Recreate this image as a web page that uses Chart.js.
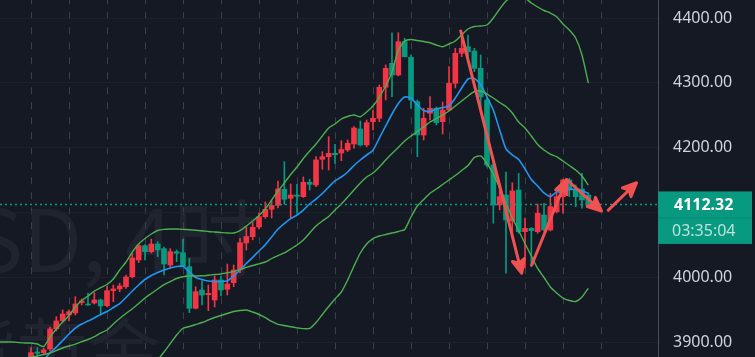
<!DOCTYPE html>
<html><head><meta charset="utf-8">
<script src="https://cdn.jsdelivr.net/npm/chart.js@4/dist/chart.umd.min.js"></script>
<style>html,body{margin:0;padding:0;background:#151924;overflow:hidden}#wrap{width:755px;height:357px}</style>
</head><body><div id="wrap"><canvas id="c" width="755" height="357"></canvas></div>
<script>
// ---- data (4H candles, index -5..88) ----
const barIndex = [-5,-4,-3,-2,-1,0,1,2,3,4,5,6,7,8,9,10,11,12,13,14,15,16,17,18,19,20,21,22,23,24,25,26,27,28,29,30,31,32,33,34,35,36,37,38,39,40,41,42,43,44,45,46,47,48,49,50,51,52,53,54,55,56,57,58,59,60,61,62,63,64,65,66,67,68,69,70,71,72,73,74,75,76,77,78,79,80,81,82,83,84,85,86,87,88];
const opens = [null,null,null,null,null,
3872.3,3884.7,3883.6,3889.3,3920.2,3932.9,3941.8,3944.8,3960.7,3958.7,
3960.3,3964.9,3956.1,3979.2,3981.9,3985.4,4000.9,4026.6,4048.7,4039.4,
4051.3,4044.1,4018.9,4039.4,4037.9,4016.3,3952.1,3980.3,3973.1,3964.9,
3995.8,3981.4,3991.6,4011.2,4052.9,4062.6,4077.5,4093.4,4104.8,4111.0,
4135.7,4121.8,4126.9,4124.3,4146.5,4142.3,4182.0,4186.0,4191.2,4191.7,
4196.4,4205.6,4228.8,4204.1,4240.0,4245.3,4293.1,4330.1,4312.1,4363.5,
4339.4,4270.9,4219.5,4253.0,4260.7,4240.0,4258.1,4299.3,4345.6,4355.7,
4349.1,4322.4,4273.5,4173.2,4111.5,4126.9,4086.8,4134.6,4070.3,4075.5,
4070.3,4096.1,4073.0,4101.1,4124.3,4150.1,4134.6,4136.2,4126.9];
const highs = [null,null,null,null,null,
3891.3,3891.3,3890.4,3923.2,3939.1,3949.5,3949.5,3970.0,3966.4,3975.7,
3976.2,3966.4,3985.4,3988.0,3990.7,4003.5,4035.9,4051.3,4050.2,4059.0,
4054.9,4046.7,4044.1,4042.1,4058.5,4029.3,3985.4,3994.7,3988.0,4001.9,
4001.9,4020.4,4018.9,4060.1,4078.0,4084.2,4099.2,4116.1,4117.7,4148.5,
4178.3,4143.9,4143.4,4154.7,4151.1,4186.0,4193.7,4216.9,4205.1,4210.7,
4211.8,4232.3,4241.1,4242.6,4258.1,4296.6,4327.5,4377.3,4377.3,4368.7,
4343.0,4273.5,4260.7,4278.6,4262.7,4270.4,4324.9,4353.3,4372.3,4373.8,
4353.3,4343.0,4278.1,4176.3,4139.7,4162.4,4145.9,4160.4,4091.4,4076.8,
4113.0,4114.1,4129.5,4129.5,4151.6,4152.7,4142.3,4160.4,4130.0];
const lows = [null,null,null,null,null,
3869.0,3875.4,3881.6,3886.2,3917.1,3931.0,3932.5,3941.8,3957.2,3956.4,
3958.7,3941.8,3954.1,3962.3,3977.7,3982.9,3998.8,4022.5,4026.6,4037.4,
4031.7,4003.5,4014.3,4024.0,4016.3,3945.3,3951.0,3957.2,3948.4,3954.1,
3971.1,3972.6,3985.4,4007.0,4042.1,4057.6,4074.5,4091.0,4091.4,4106.9,
4112.6,4091.4,4098.7,4123.1,4134.6,4139.7,4166.6,4165.5,4175.8,4179.8,
4194.0,4199.0,4202.5,4201.4,4227.2,4240.0,4273.5,4278.6,4310.5,4339.8,
4260.7,4186.0,4211.8,4242.6,4235.0,4221.0,4256.5,4292.0,4340.3,4340.3,
4317.2,4258.1,4170.1,4083.3,4103.8,4006.1,4067.8,4067.8,4014.3,4016.3,
4067.8,4071.4,4071.4,4099.1,4098.7,4124.3,4108.9,4106.4,4111.0];
const closes = [null,null,null,null,null,
3883.6,3882.4,3887.8,3920.2,3932.5,3943.3,3946.8,3958.7,3963.4,3957.2,
3964.9,3955.6,3979.2,3981.9,3986.5,4000.4,4029.7,4048.7,4039.4,4051.3,
4042.1,4020.5,4039.4,4036.9,4017.4,3952.1,3977.7,3972.6,3975.2,3995.8,
3980.3,3989.6,4011.2,4053.3,4062.9,4077.1,4093.4,4104.8,4110.7,4136.2,
4120.3,4126.9,4124.9,4146.5,4143.4,4181.0,4186.0,4191.2,4189.1,4197.1,
4206.7,4230.3,4204.1,4238.5,4245.3,4293.1,4322.4,4312.1,4363.5,4340.3,
4273.5,4219.5,4245.3,4260.7,4238.5,4258.1,4299.3,4345.6,4353.3,4348.0,
4322.4,4278.1,4173.2,4111.5,4124.3,4088.4,4133.1,4070.3,4075.5,4071.8,
4098.7,4073.0,4108.9,4124.3,4150.1,4134.6,4124.3,4119.2,4112.32];
const bbUpper = [3900.0,3900.0,3900.0,3899.3,3898.5,
3898.5,3896.9,3893.1,3907.7,3920.1,3930.9,3940.9,3954.0,3964.1,3971.0,
3978.7,3984.1,3988.8,3997.2,4011.1,4023.5,4038.9,4051.3,4059.7,4066.7,
4072.1,4073.9,4074.4,4074.4,4073.9,4073.2,4072.4,4071.8,4070.6,4069.8,
4069.0,4068.2,4068.2,4071.8,4079.0,4086.8,4095.2,4105.3,4119.2,4133.0,
4145.4,4158.5,4170.1,4183.2,4194.8,4205.6,4217.9,4230.3,4236.4,4244.2,
4248.0,4250.3,4247.7,4255.0,4264.2,4278.1,4295.1,4316.7,4350.6,4364.5,
4366.8,4365.3,4363.8,4361.9,4358.4,4355.7,4359.9,4364.5,4373.8,4383.0,
4386.9,4387.7,4389.2,4400.0,4413.9,4426.3,4432.4,4435.5,4430.9,4423.2,
4417.0,4411.6,4407.7,4402.0,4390.8,4381.5,4369.2,4342.9,4299.7];
const bbMiddle = [3863.0,3866.1,3869.2,3872.2,3874.6,
3876.9,3878.4,3880.7,3883.1,3886.9,3890.8,3893.9,3896.9,3900.5,3903.9,
3908.5,3913.9,3918.5,3927.8,3936.3,3944.0,3951.3,3959.4,3967.9,3974.9,
3981.8,3988.5,3993.4,3998.0,4000.8,4001.9,4001.9,4002.2,4003.1,4004.2,
4005.0,4007.0,4008.8,4011.9,4015.1,4018.1,4020.7,4023.5,4028.9,4033.5,
4037.4,4043.5,4049.7,4057.4,4068.2,4079.0,4086.8,4093.7,4103.7,4113.0,
4123.8,4134.6,4145.4,4154.7,4160.8,4170.1,4180.9,4190.9,4200.2,4210.2,
4217.9,4224.9,4231.8,4239.5,4244.9,4250.3,4256.5,4264.2,4271.9,4279.7,
4286.6,4287.4,4282.7,4276.6,4269.6,4263.4,4253.4,4239.5,4230.3,4217.9,
4204.8,4196.3,4190.1,4186.0,4179.3,4172.4,4165.5,4156.2,4142.3];
const bbLower = [null,null,null,null,null,
null,null,null,null,null,null,null,null,null,null,
null,null,null,null,null,3802.8,3816.7,3832.1,3846.0,3859.9,
3872.2,3884.6,3897.7,3910.8,3921.2,3923.9,3927.0,3930.1,3934.0,3937.8,
3940.9,3944.0,3947.1,3948.6,3949.4,3946.3,3942.5,3937.5,3931.7,3927.3,
3925.5,3923.5,3921.9,3920.7,3920.9,3930.1,3942.5,3954.8,3966.4,3977.2,
3995.7,4017.3,4037.4,4051.3,4059.7,4063.6,4065.9,4068.2,4070.6,4073.6,
4092.9,4109.9,4119.9,4129.5,4136.1,4143.1,4150.0,4157.0,4164.7,4172.4,
4184.7,4187.1,4175.5,4159.3,4137.7,4114.5,4091.4,4072.1,4052.0,4032.7,
4013.5,3999.6,3984.9,3975.6,3967.9,3964.1,3962.5,3969.5,3982.9];
const maLine = [null,null,null,null,null,
3849.1,3859.9,3872.2,3883.1,3892.3,3902.3,3912.4,3921.6,3927.8,3932.4,
3937.1,3942.5,3947.1,3953.3,3959.4,3968.7,3978.7,3988.0,3996.5,4002.7,
4007.3,4011.1,4014.2,4016.5,4016.8,4008.0,3999.6,3996.5,3994.2,3993.4,
3993.4,3994.2,4001.9,4011.1,4021.2,4030.7,4040.5,4050.2,4062.1,4074.4,
4082.9,4090.3,4096.0,4103.7,4113.0,4120.7,4129.2,4139.2,4148.5,4154.7,
4162.4,4172.4,4180.9,4188.6,4195.9,4214.8,4233.4,4251.9,4268.1,4278.1,
4276.6,4265.8,4257.3,4255.7,4259.6,4261.9,4264.2,4276.6,4292.0,4305.9,
4306.7,4297.4,4278.1,4258.0,4227.2,4197.9,4188.6,4181.7,4167.0,4150.8,
4140.8,4130.0,4124.6,4131.5,4131.5,4136.1,4135.4,4133.0,4129.5];
const dayBreaks = [-3,3,9,15,21,27,33,39,45,51,57,63,69,75,81,87];
const priceTicks = [3900,4000,4100,4200,4300,4400];
const lastPrice = 4112.32;
const countdown = "03:35:04";
// drawn arrows: [fromIndex, fromPrice, toIndex, toPrice]
const arrowFromIdx   = [67.85, 79.06, 84.58, 91.16];
const arrowFromPrice = [4380.0, 4018.8, 4150.8, 4103.5];
const arrowToIdx     = [77.48, 84.55, 90.08, 95.61];
const arrowToPrice   = [4006.0, 4150.8, 4102.0, 4145.9];
const watermarkLine1 = "XAUUSD, 4时";
const watermarkLine2 = "现货黄金";

// ---- style ----
const BG='#151924', UP='#f23645', DOWN='#089981', BAND='#4caf50', MA='#2196f3', ARROW='#f05252';

const candleIdx = barIndex.map((x,k)=>k).filter(k=>opens[k]!=null);
const candleColor = candleIdx.map(k=> closes[k]>=opens[k]?UP:DOWN);
const bodyData = candleIdx.map(k=> ({x:barIndex[k], y:[opens[k], closes[k]]}));
const wickData = candleIdx.map(k=> ({x:barIndex[k], y:[lows[k], highs[k]]}));
const pts = arr => barIndex.map((x,k)=> ({x:x, y:arr[k]}));

const bgPlugin = {
  id:'bgwm',
  beforeDraw(chart){
    const c=chart.ctx;
    c.save();
    c.fillStyle=BG; c.fillRect(0,0,chart.width,chart.height);
    c.fillStyle='rgba(178,181,190,0.075)';
    c.font='86px "Noto Sans CJK SC"';
    c.textAlign='right'; c.textBaseline='alphabetic';
    c.fillText(watermarkLine1, 259, 272);
    c.font='72px "Noto Sans CJK SC"';
    c.textAlign='left';
    c.fillText(watermarkLine2, -128, 378);
    c.restore();
  }
};
const overlayPlugin = {
  id:'overlay',
  afterDatasetsDraw(chart){
    const c=chart.ctx, xs=chart.scales.x, ys=chart.scales.y, a=chart.chartArea;
    const py=Math.round(ys.getPixelForValue(lastPrice))+0.5;
    c.save();
    c.strokeStyle=DOWN; c.lineWidth=1.5; c.setLineDash([2,3]);
    c.beginPath(); c.moveTo(a.left,py); c.lineTo(a.right,py); c.stroke();
    c.setLineDash([]);
    c.strokeStyle=ARROW; c.fillStyle=ARROW; c.lineWidth=3; c.lineCap='round'; c.lineJoin='round';
    for(let k=0;k<arrowFromIdx.length;k++){
      const x1=xs.getPixelForValue(arrowFromIdx[k]), y1=ys.getPixelForValue(arrowFromPrice[k]);
      const x2=xs.getPixelForValue(arrowToIdx[k]), y2=ys.getPixelForValue(arrowToPrice[k]);
      const ang=Math.atan2(y2-y1,x2-x1), L=15, w=0.42;
      c.beginPath(); c.moveTo(x1,y1); c.lineTo(x2-Math.cos(ang)*4,y2-Math.sin(ang)*4); c.stroke();
      c.beginPath();
      c.moveTo(x2,y2);
      c.lineTo(x2-L*Math.cos(ang-w), y2-L*Math.sin(ang-w));
      c.lineTo(x2-L*0.7*Math.cos(ang), y2-L*0.7*Math.sin(ang));
      c.lineTo(x2-L*Math.cos(ang+w), y2-L*Math.sin(ang+w));
      c.closePath(); c.fill(); c.stroke();
    }
    c.restore();
  },
  afterDraw(chart){
    const c=chart.ctx, ys=chart.scales.y, a=chart.chartArea;
    const py=ys.getPixelForValue(lastPrice);
    const left=a.right, top=py-13;
    c.save();
    c.fillStyle=DOWN; c.fillRect(left, top, 94, 52.5);
    c.fillStyle='rgba(0,0,0,0.12)'; c.fillRect(left, top+26, 94, 1);
    c.font='bold 16px "Noto Sans"'; c.textAlign='left'; c.textBaseline='middle';
    c.fillStyle='#ffffff'; c.fillText(lastPrice.toFixed(2), left+16, top+13.5);
    c.font='16px "Noto Sans"'; c.fillStyle='rgba(255,255,255,0.72)';
    c.fillText(countdown, left+14, top+40);
    c.restore();
  }
};

new Chart(document.getElementById('c'), {
  type:'bar',
  data:{ datasets:[
    {type:'line', label:'BB Upper', data:pts(bbUpper), borderColor:BAND, borderWidth:1.4, pointRadius:0, tension:0.2, order:0},
    {type:'line', label:'BB Basis', data:pts(bbMiddle), borderColor:BAND, borderWidth:1.4, pointRadius:0, tension:0.2, order:0},
    {type:'line', label:'BB Lower', data:pts(bbLower), borderColor:BAND, borderWidth:1.4, pointRadius:0, tension:0.2, order:0},
    {type:'line', label:'MA', data:pts(maLine), borderColor:MA, borderWidth:1.6, pointRadius:0, tension:0.2, order:0},
    {label:'body', data:bodyData, backgroundColor:candleColor, borderWidth:0, barThickness:5, grouped:false, order:1},
    {label:'wick', data:wickData, backgroundColor:candleColor, borderWidth:0, barThickness:1, grouped:false, order:2}
  ]},
  options:{
    responsive:false, animation:false, devicePixelRatio:1,
    layout:{padding:0},
    plugins:{legend:{display:false}, tooltip:{enabled:false}},
    scales:{
      x:{ type:'linear', min:-4.895, max:99.0, offset:false, position:'bottom',
          afterBuildTicks: s => { s.ticks = dayBreaks.map(v=>({value:v})); },
          afterFit: s => { s.height = 0; s.paddingLeft=0; s.paddingRight=0; },
          ticks:{display:false},
          grid:{color:'#3b3f4b', lineWidth:1, drawTicks:false},
          border:{display:false, dash:[7,8], dashOffset:2.7} },
      y:{ type:'linear', position:'right', min:3876.9, max:4427.8,
          afterBuildTicks: s => { s.ticks = priceTicks.map(v=>({value:v})); },
          afterFit: s => { s.width = 97; s.paddingTop=0; s.paddingBottom=0; },
          ticks:{ color:'#d1d4dc', padding:15, font:{family:'"Noto Sans"', size:16}, callback:v=>Number(v).toFixed(2) },
          grid:{color:'#1d212c', lineWidth:1, drawTicks:false},
          border:{display:true, color:'#4a4e59', width:1} }
    }
  },
  plugins:[bgPlugin, overlayPlugin]
});
</script></body></html>
